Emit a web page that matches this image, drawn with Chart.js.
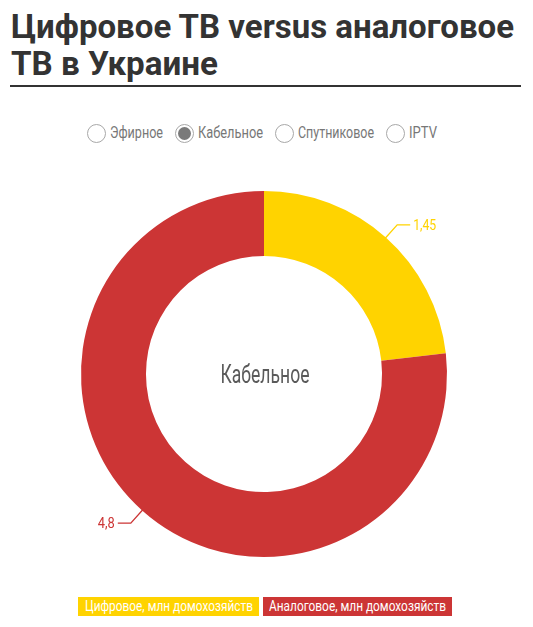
<!DOCTYPE html>
<html><head><meta charset="utf-8">
<script src="https://cdn.jsdelivr.net/npm/chart.js@4/dist/chart.umd.min.js"></script>
<style>
html,body{margin:0;padding:0;background:#fff;width:533px;height:627px;overflow:hidden;position:relative;}
.t{position:absolute;left:11px;white-space:nowrap;font-family:Roboto,"Noto Sans",sans-serif;font-weight:700;font-size:34px;line-height:34px;color:#333;transform-origin:0 50%;}
#rule{position:absolute;left:10px;top:85px;width:511px;height:2px;background:#333;}
.c{position:absolute;width:19px;height:19px;border:1px solid #a8a8a8;border-radius:50%;box-sizing:border-box;background:#fff;}
.c.on::after{content:"";position:absolute;left:2px;top:2px;width:13px;height:13px;border-radius:50%;background:#7a7a7a;}
.rl{position:absolute;white-space:nowrap;font-family:Roboto,sans-serif;font-size:16px;line-height:20px;color:#777;transform-origin:0 50%;}
#wrap{position:absolute;left:0;top:149px;width:533px;height:450px;}
.lg{position:absolute;top:597px;height:19px;overflow:hidden;}
.lg span{position:absolute;left:0;top:0;white-space:nowrap;font-family:Roboto,sans-serif;font-size:15px;line-height:19px;color:#fff;transform-origin:0 50%;}
</style></head><body>
<div id="rule"></div>
<div id="wrap"><canvas id="c"></canvas></div>
<script>
const titleLines = ["Цифровое ТВ versus аналоговое", "ТВ в Украине"];
const categories = ["Цифровое, млн домохозяйств", "Аналоговое, млн домохозяйств"];
const values = [1.45, 4.8];
const valueLabels = ["1,45", "4,8"];
const colors = ["#FFD300", "#CC3535"];
const tvTypes = ["Эфирное", "Кабельное", "Спутниковое", "IPTV"];
const selectedType = "Кабельное";

function fit(el, w) {
  const m = el.getBoundingClientRect().width;
  el.style.transform = 'scaleX(' + (w / m) + ')';
}
// title
const titleTops = [9, 46];
const titleWidths = [503, 207];
titleLines.forEach((s, i) => {
  const d = document.createElement('div'); d.className = 't';
  d.style.top = titleTops[i] + 'px'; d.textContent = s;
  document.body.appendChild(d); fit(d, titleWidths[i]);
});
// radios
const radioCx = [96, 184, 284, 395];
const radioTextW = [53, 65, 76, 28];
tvTypes.forEach((t, i) => {
  const c = document.createElement('div'); c.className = 'c' + (t === selectedType ? ' on' : '');
  c.style.left = (radioCx[i] - 9.5) + 'px'; c.style.top = (133 - 9.5) + 'px';
  document.body.appendChild(c);
  const l = document.createElement('div'); l.className = 'rl'; l.textContent = t;
  l.style.left = (radioCx[i] + 14) + 'px'; l.style.top = '123px';
  document.body.appendChild(l); fit(l, radioTextW[i]);
});
// legend
const lgBox = [[78, 181], [263, 189]];
const lgText = [[7, 168], [6, 177]];
categories.forEach((c, i) => {
  const d = document.createElement('div'); d.className = 'lg';
  d.style.left = lgBox[i][0] + 'px'; d.style.width = lgBox[i][1] + 'px';
  d.style.background = colors[i];
  const s = document.createElement('span'); s.textContent = c;
  s.style.left = lgText[i][0] + 'px';
  d.appendChild(s); document.body.appendChild(d); fit(s, lgText[i][1]);
});

function drawNarrow(ctx, text, x, y, font, targetW, align) {
  ctx.font = font;
  const m = ctx.measureText(text).width;
  const sx = targetW / m;
  ctx.save();
  ctx.translate(x, y); ctx.scale(sx, 1);
  ctx.textAlign = align; ctx.textBaseline = 'alphabetic';
  ctx.fillText(text, 0, 0);
  ctx.restore();
}

const leaderPlugin = {
  id: 'leader',
  afterDatasetsDraw(chart) {
    const ctx = chart.ctx;
    const meta = chart.getDatasetMeta(0);
    meta.data.forEach((arc, i) => {
      const p = arc.getProps(['x','y','startAngle','endAngle','outerRadius'], true);
      const mid = (p.startAngle + p.endAngle) / 2;
      const r0 = p.outerRadius - 1, r1 = p.outerRadius + 17;
      const x0 = p.x + Math.cos(mid) * r0, y0 = p.y + Math.sin(mid) * r0;
      const x1 = p.x + Math.cos(mid) * r1, y1 = p.y + Math.sin(mid) * r1;
      const right = Math.cos(mid) >= 0;
      const x2 = x1 + (right ? 13 : -13);
      ctx.save();
      ctx.strokeStyle = colors[i]; ctx.lineWidth = 1.3;
      ctx.beginPath(); ctx.moveTo(x0, y0); ctx.lineTo(x1, y1); ctx.lineTo(x2, y1); ctx.stroke();
      ctx.fillStyle = colors[i];
      drawNarrow(ctx, valueLabels[i], x2 + (right ? 3 : -3), y1 + 5,
        '15px Roboto, sans-serif', right ? 23 : 17, right ? 'left' : 'right');
      ctx.restore();
    });
    ctx.save();
    ctx.fillStyle = '#5a5a5a';
    drawNarrow(ctx, selectedType, meta.data[0].x + 1, meta.data[0].y + 9,
      '25px Roboto, sans-serif', 89, 'center');
    ctx.restore();
  }
};

new Chart(document.getElementById('c'), {
  type: 'doughnut',
  data: { labels: categories, datasets: [{ data: values, backgroundColor: colors, borderWidth: 0 }] },
  options: {
    responsive: true, maintainAspectRatio: false, animation: false,
    cutout: '64.5%',
    layout: { padding: { top: 42, bottom: 42, left: 0, right: 5 } },
    plugins: { legend: { display: false }, tooltip: { enabled: false } }
  },
  plugins: [leaderPlugin]
});
</script>
</body></html>
